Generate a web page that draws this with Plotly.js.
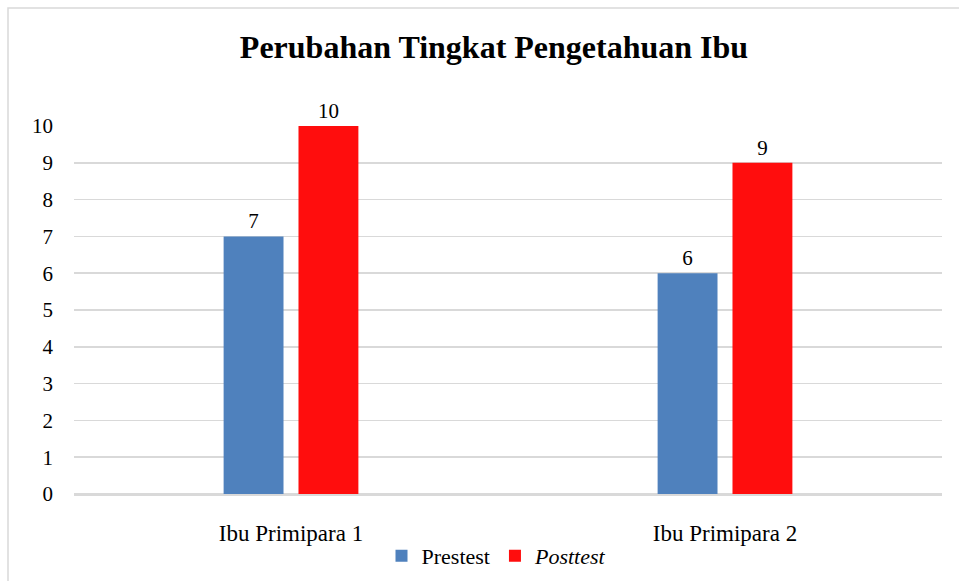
<!DOCTYPE html>
<html><head><meta charset="utf-8">
<script src="https://cdn.plot.ly/plotly-3.0.1.min.js"></script>
<style>html,body{margin:0;padding:0;background:#fff;}#chart{width:959px;height:581px;}</style>
</head><body><div id="chart"></div>
<script>
const categories = ["Ibu Primipara 1", "Ibu Primipara 2"];
const prestest = [7, 6];
const posttest = [10, 9];
const yTicks = [0,1,2,3,4,5,6,7,8,9,10];

const F = "'Liberation Serif', 'Times New Roman', serif";
const traces = [
  {type:'bar', name:'Prestest', x:categories, y:prestest, marker:{color:'#4f81bd'},
   text:prestest.map(String), textposition:'outside', cliponaxis:false,
   textfont:{family:F,size:21,color:'#000'}},
  {type:'bar', name:'<i>Posttest</i>', x:categories, y:posttest, marker:{color:'#ff0d0d'},
   text:posttest.map(String), textposition:'outside', cliponaxis:false,
   textfont:{family:F,size:21,color:'#000'}}
];
const layout = {
  width:959, height:581,
  margin:{l:74, r:17, t:126, b:87},
  paper_bgcolor:'rgba(0,0,0,0)', plot_bgcolor:'rgba(0,0,0,0)',
  font:{family:F, size:21, color:'#000'},
  title:{text:'<b>Perubahan Tingkat Pengetahuan Ibu</b>', font:{family:F,size:32,color:'#000'},
    x:494/959, xref:'container', xanchor:'center', y:1-47/581, yref:'container', yanchor:'middle'},
  barmode:'group', bargap:0.655, bargroupgap:0.2,
  xaxis:{type:'category', showgrid:false, showline:true, linecolor:'#d9d9d9', linewidth:2,
    ticks:'', ticklabelstandoff:17, tickfont:{family:F,size:23,color:'#000'}, fixedrange:true},
  yaxis:{range:[0,10], tickvals:yTicks, ticktext:yTicks.map(String), showgrid:true, gridcolor:'#d9d9d9', gridwidth:1.5,
    zeroline:true, zerolinecolor:'#d9d9d9', zerolinewidth:2, showline:false, ticks:'',
    ticklabelstandoff:20, tickfont:{family:F,size:21,color:'#000'}, fixedrange:true},
  showlegend:true,
  legend:{orientation:'h', x:(497-74)/868, xanchor:'center', xref:'paper', y:1-556/581, yref:'container', yanchor:'middle',
    font:{family:F,size:22,color:'#000'}, itemwidth:30, traceorder:'normal'},
  shapes:[{type:'rect', xref:'paper', yref:'paper', x0:(8-74)/868, x1:2, y0:-2, y1:1+(126-8)/368,
    line:{color:'#d9d9d9', width:1.5}, fillcolor:'rgba(0,0,0,0)', layer:'below'}]
};
Plotly.newPlot('chart', traces, layout, {displayModeBar:false, staticPlot:true});
</script></body></html>
